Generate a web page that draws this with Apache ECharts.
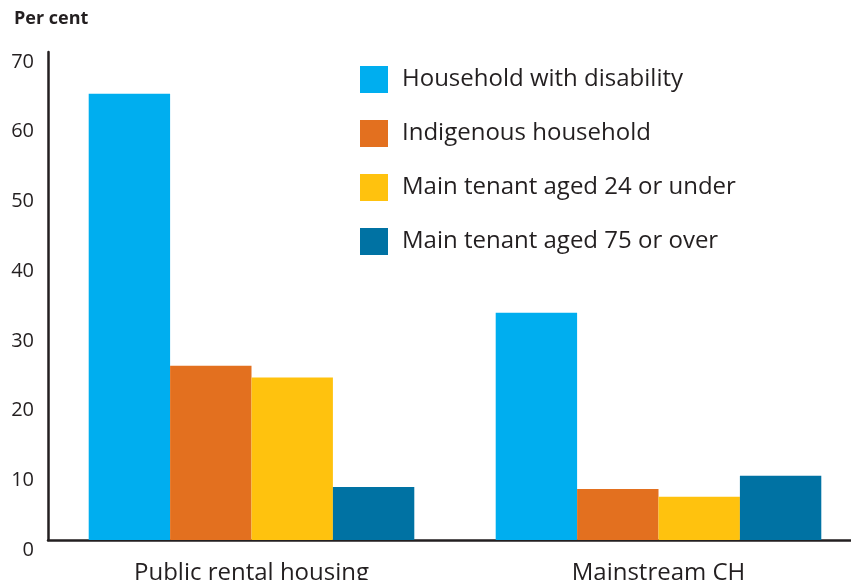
<!DOCTYPE html>
<html>
<head>
<meta charset="utf-8">
<script src="https://cdn.jsdelivr.net/npm/echarts@6/dist/echarts.min.js"></script>
<style>
  html, body { margin: 0; padding: 0; background: #fff; }
  #chart { width: 851px; height: 580px; }
</style>
</head>
<body>
<div id="chart"></div>
<script>
// categories and values
const categories = ['Public rental housing', 'Mainstream CH']
const seriesNames = [
  'Household with disability',
  'Indigenous household',
  'Main tenant aged 24 or under',
  'Main tenant aged 75 or over'
]
const disability = [64.0, 32.6]
const indigenous = [25.0, 7.3]
const youngTenant = [23.3, 6.2]
const olderTenant = [7.6, 9.2]
const yTicks = [0, 10, 20, 30, 40, 50, 60, 70]

const colors = ['#00aeef', '#e3701f', '#ffc20e', '#0072a3']
const values = [disability, indigenous, youngTenant, olderTenant]
const textColor = '#231f20'
const font = '"Open Sans", "Noto Sans", sans-serif'

const chart = echarts.init(document.getElementById('chart'), null, { renderer: 'canvas' })

const option = {
  animation: false,
  textStyle: { fontFamily: font, color: textColor },
  title: {
    text: 'Per cent',
    left: 14,
    top: 10,
    padding: 0,
    textStyle: { fontSize: 18, fontWeight: 'bold', color: textColor, fontFamily: font }
  },
  legend: {
    orient: 'vertical',
    left: 360,
    top: 66,
    padding: 0,
    itemWidth: 28,
    itemHeight: 27,
    itemGap: 27,
    icon: 'rect',
    data: seriesNames,
    textStyle: { fontSize: 24, color: textColor, fontFamily: font, padding: [0, 0, 0, 9] }
  },
  // the second category runs off the right edge, so fix the width and
  // stop v6 from squeezing the grid back inside the canvas
  grid: {
    left: 48, width: 814, top: 52, bottom: 40,
    containLabel: false,
    outerBoundsMode: 'none'
  },
  xAxis: {
    type: 'category',
    data: categories,
    axisLine: { show: true, lineStyle: { color: textColor, width: 2.5 } },
    axisTick: { show: false },
    axisLabel: { fontSize: 24, color: textColor, margin: 21, fontFamily: font }
  },
  yAxis: {
    type: 'value',
    min: yTicks[0],
    max: yTicks[yTicks.length - 1],
    interval: 10,
    splitLine: { show: false },
    axisTick: { show: false },
    axisLine: { show: true, lineStyle: { color: textColor, width: 2.5 } },
    axisLabel: {
      fontSize: 20,
      color: textColor,
      margin: 14,
      fontFamily: font,
      verticalAlign: 'top'
    }
  },
  series: seriesNames.map((name, i) => ({
    name: name,
    type: 'bar',
    data: values[i],
    barGap: '0%',
    barCategoryGap: '20%',
    itemStyle: { color: colors[i] },
    emphasis: { disabled: true }
  }))
}

chart.setOption(option)
</script>
</body>
</html>
